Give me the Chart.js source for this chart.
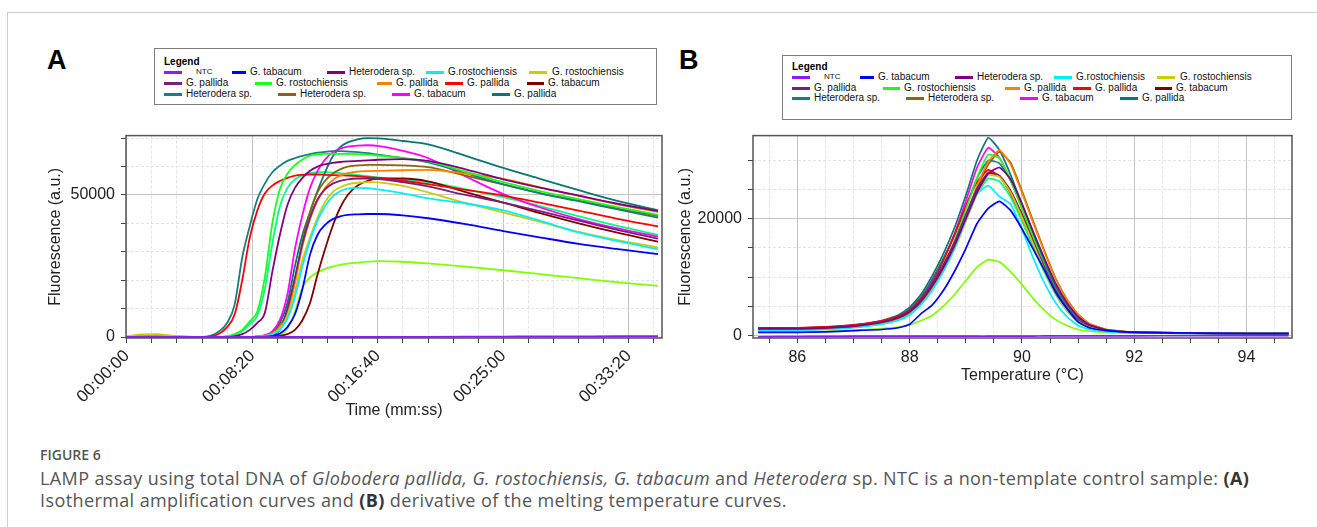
<!DOCTYPE html>
<html>
<head>
<meta charset="utf-8">
<script src="https://cdn.jsdelivr.net/npm/chart.js@4.4.0/dist/chart.umd.min.js"></script>
<style>
  body{margin:0;background:#fff;width:1317px;height:527px;overflow:hidden;position:relative;
       font-family:"Liberation Sans",Arial,sans-serif;}
  #frame{position:absolute;left:7px;top:12px;width:1340px;height:560px;border:1px solid #cfcfcf;}
  .panel{position:absolute;top:45px;font-weight:bold;font-size:27px;color:#000;}
  .legend{position:absolute;border:1.5px solid #7d7d7d;background:#fff;box-sizing:border-box;}
  .legend .head{position:absolute;left:9px;font-weight:bold;font-size:10px;line-height:12px;}
  .legend .sw{position:absolute;height:2.5px;}
  .legend .lb{position:absolute;font-size:10px;line-height:12px;white-space:nowrap;color:#111;}
  canvas{position:absolute;}
  .fig{position:absolute;left:40px;top:446px;font-family:"Open Sans",sans-serif;font-weight:600;
       font-size:14px;line-height:18px;color:#555;}
  .cap{position:absolute;left:40px;top:467px;font-family:"Open Sans",sans-serif;font-size:18px;
       letter-spacing:0.4px;line-height:22px;color:#555;white-space:nowrap;}
  .cap b{color:#333;}
</style>
</head>
<body>
<div id="frame"></div>
<div class="panel" style="left:47px">A</div>
<div class="panel" style="left:679px">B</div>
<div class="legend" id="legA" style="left:154px;top:48px;width:503px;height:57px"></div>
<div class="legend" id="legB" style="left:782px;top:55px;width:510px;height:65px"></div>
<canvas id="chartA" width="680" height="310" style="left:0;top:120px"></canvas>
<canvas id="chartB" width="640" height="280" style="left:670px;top:120px"></canvas>
<div class="fig">FIGURE 6</div>
<div class="cap">LAMP assay using total DNA of <i>Globodera pallida, G. rostochiensis, G. tabacum</i> and <i>Heterodera</i> sp. NTC is a non-template control sample: <b>(A)</b><br>Isothermal amplification curves and <b>(B)</b> derivative of the melting temperature curves.</div>

<script>
/* ---------- Data ---------- */
const seriesNames = ['NTC','G. tabacum','Heterodera sp.','G.rostochiensis','G. rostochiensis','G. pallida',
  'G. rostochiensis','G. pallida','G. pallida','G. tabacum','Heterodera sp.','Heterodera sp.','G. tabacum',
  'G. pallida','G. rostochiensis','G. rostochiensis'];
const seriesColors = ['#8c1aff','#0000ff','#800080','#00eeff','#cccc00','#7a1f7a','#1aff1a','#ff8000',
  '#ff0000','#800000','#167f7f','#8b6508','#ff00ff','#0b7676','#80ff00','#00ff80'];
const legendCount = 14;   // last two curves have no legend entry in the original

// A: isothermal amplification (time in seconds)
const timeSec = [0,60,120,180,300,360,400,430,460,490,520,550,580,610,640,670,700,730,760,790,820,850,880,920,960,1000,1100,1200,1350,1500,1650,1800,1950,2116];
const timeTicks = [0,100,200,300,400,500,600,700,800,900,1000,1100,1200,1300,1400,1500,1600,1700,1800,1900,2000,2100];
const fluorTicksA = [0,10000,20000,30000,40000,50000,60000,70000];

const ampNTC      = [0,0,0,0,0,0,0,0,0,0,0,0,0,0,0,0,0,0,0,0,0,0,0,0,0,0,50,80,120,160,200,230,260,300];
const ampBlue     = [0,0,0,0,0,0,0,0,0,0,0,100,400,1200,3500,8000,17000,29000,36000,39500,41500,42500,43000,43200,43300,43300,42800,41800,39700,37300,35000,32800,31000,29200];
const ampPurpleH  = [0,0,0,0,0,0,0,300,1000,2500,5000,8500,23000,36000,46500,52500,56000,58500,60000,60800,61300,61600,61800,62000,62200,62400,62600,62000,59000,55500,52500,49800,47000,44300];
const ampCyan     = [0,0,0,0,0,0,0,0,0,0,100,300,900,2500,6500,14000,25000,34000,41000,46000,49500,51300,52200,52500,52400,52000,50600,48800,47000,44600,40800,36800,33800,30900];
const ampYellow   = [300,900,1000,500,0,0,0,0,0,0,100,300,1000,3000,7500,16000,27000,35000,42000,47500,51000,52700,53700,54300,54500,54400,53200,50900,47200,43800,40400,37000,34200,31500];
const ampPurpleP  = [0,0,0,0,0,0,0,0,0,0,0,100,700,2500,10000,21000,33000,42000,48500,52000,54000,55000,55500,55800,55800,55700,54500,53000,50000,47300,44200,41000,37800,34600];
const ampGreen    = [0,0,0,0,0,0,300,1000,2500,5500,9000,21000,40000,52000,57500,60500,62500,63800,64300,64500,64500,64500,64500,64400,64200,63900,63000,61800,58200,54500,51300,48500,45800,43000];
const ampOrange   = [0,500,600,300,0,0,0,0,0,0,100,400,1200,3500,8500,19000,32000,41500,48000,52500,55200,56800,57700,58200,58400,58500,58700,58800,57500,55700,52600,49700,46800,44000];
const ampRed      = [0,0,0,0,0,800,3500,8000,20000,35000,44500,50500,53300,54900,56000,56800,57100,57200,57200,57100,57000,56900,56800,56600,56300,56000,55000,53800,51800,49800,47200,44500,41700,38900];
const ampDarkRed  = [0,0,0,0,0,0,0,0,0,0,0,0,100,400,1000,2500,6000,12000,22000,31000,39000,45500,50000,53300,55000,55800,55800,54800,51000,47300,43500,40000,36800,33600];
const ampTealH    = [0,0,0,0,0,1500,5000,11500,28000,39000,48500,54000,58000,60300,62000,63000,63800,64400,64900,65200,65400,65400,65300,65100,64700,64200,63000,61500,57700,53700,50500,47800,45000,42000];
const ampBrown    = [0,0,0,0,0,0,0,0,0,0,100,400,1300,4000,9000,20000,33500,44000,51000,55000,57500,59000,60000,60400,60600,60600,60400,59800,56800,53700,50600,48000,45300,42600];
const ampMagenta  = [0,0,0,0,0,0,0,0,0,0,200,700,2000,6000,15000,31000,43000,52500,58500,62500,65000,66300,67000,67400,67500,67300,65500,63000,56500,50300,45500,41500,38300,35400];
const ampTealP    = [0,0,0,0,0,0,0,0,0,0,100,500,1500,5000,12000,25000,36000,44000,51500,58000,63500,66800,68500,69600,70000,69900,69000,67800,63800,59500,55600,51700,48000,44600];
const ampLime     = [0,0,0,0,0,0,0,0,0,0,0,0,200,700,3000,9000,17500,21000,22800,24000,24800,25400,25800,26200,26500,26700,26500,25900,24800,23500,22100,20700,19300,18000];
const ampMint     = [0,0,0,0,0,0,200,800,2000,4500,7500,17000,33000,46000,52500,55500,57000,57700,58000,58000,57900,57700,57400,57000,56600,56200,55300,54500,52000,49200,46000,42500,39200,36000];

// B: derivative melt curves (temperature in °C)
const tempC = [85.3,86,86.5,87,87.5,87.8,88.0,88.2,88.4,88.6,88.8,89.0,89.2,89.4,89.6,89.8,90.0,90.2,90.4,90.6,90.8,91.0,91.2,91.5,92,93,94,94.75];
const tempTicks = [85.5,86,86.5,87,87.5,88,88.5,89,89.5,90,90.5,91,91.5,92,92.5,93,93.5,94,94.5];
const fluorTicksB = [0,5000,10000,15000,20000,25000,30000];

const meltNTC     = [-250,-200,-180,-150,-150,-150,-150,-150,-150,-150,-150,-150,-150,-150,-120,-120,-120,-120,-100,-100,-100,-100,-100,-80,-80,-60,-50,-50];
const meltBlue    = [500,500,600,800,1000,1300,1900,3700,5200,7700,11000,14900,19200,21800,23000,21400,18300,14800,11200,7400,4600,2300,1300,800,500,400,300,300];
const meltPurpleH = [1100,1100,1250,1550,2200,3000,4000,5800,8400,11600,15400,20000,24500,27800,28800,26800,22600,17800,13200,8900,5600,3200,1800,950,550,400,320,300];
const meltCyan    = [800,850,1000,1300,1900,2600,3500,5200,7700,11000,15000,19800,24300,25700,23800,22500,18200,13300,9000,5600,3200,1700,1000,650,450,350,300,280];
const meltYellow  = [900,950,1100,1400,1950,2700,3600,5300,7800,11000,14800,19500,24300,27500,27200,24500,20300,15700,11200,7200,4300,2400,1400,800,500,380,300,280];
const meltPurpleP = [1200,1200,1350,1650,2300,3100,4200,6100,8800,12100,16000,20700,25200,27900,27300,24600,20600,16100,11700,7700,4700,2600,1500,800,500,380,300,280];
const meltGreen   = [900,1000,1200,1500,2100,2900,3900,5800,8600,12000,16300,21500,27000,31000,30400,26600,21800,16800,12000,7800,4700,2600,1500,800,500,380,300,280];
const meltOrange  = [1000,1000,1150,1450,2000,2700,3600,5300,7900,11200,15300,20300,25600,29800,31800,29300,24500,19300,14300,9700,6100,3500,2000,1000,550,400,320,300];
const meltRed     = [1300,1300,1450,1800,2500,3300,4300,6300,9000,12800,17300,22200,26300,28400,27300,24300,20300,15800,11400,7400,4500,2500,1400,800,500,380,300,350];
const meltDarkRed = [1000,1050,1200,1500,2100,2900,3800,5600,8200,11500,15500,20200,24800,27800,27400,24800,20800,16300,11800,7700,4600,2500,1400,800,500,380,300,280];
const meltTealH   = [1200,1200,1350,1700,2400,3300,4500,6600,9600,13200,17200,22000,27000,30000,29500,26500,22200,17300,12500,8200,5000,2800,1600,850,520,400,320,300];
const meltBrown   = [1000,1050,1200,1500,2100,2800,3700,5400,8000,11200,15200,20000,25200,29300,31500,29600,24800,19600,14500,9800,6200,3600,2000,1000,550,400,320,300];
const meltMagenta = [1100,1100,1300,1650,2350,3200,4300,6400,9400,13000,17500,23000,28800,32200,30500,26500,21800,16800,12200,8000,4900,2800,1600,850,500,380,300,280];
const meltTealP   = [1300,1250,1400,1750,2500,3500,4800,7000,10200,14000,18500,24000,30000,33900,31800,27500,22500,17500,12800,8500,5200,3000,1700,900,550,400,300,300];
const meltLime    = [700,650,700,850,1150,1400,1800,2500,3400,5000,7000,9400,11700,13000,12600,10900,8700,6300,4300,2700,1700,1000,700,500,400,330,280,250];
const meltMint    = [900,950,1100,1400,2000,2700,3700,5500,8000,11300,15200,19800,24200,26900,26400,23700,19600,15100,10800,7000,4200,2300,1300,750,480,370,300,280];

const ampSeries  = [ampNTC,ampBlue,ampPurpleH,ampCyan,ampYellow,ampPurpleP,ampGreen,ampOrange,ampRed,ampDarkRed,ampTealH,ampBrown,ampMagenta,ampTealP,ampLime,ampMint];
const meltSeries = [meltNTC,meltBlue,meltPurpleH,meltCyan,meltYellow,meltPurpleP,meltGreen,meltOrange,meltRed,meltDarkRed,meltTealH,meltBrown,meltMagenta,meltTealP,meltLime,meltMint];

/* ---------- Legend boxes (HTML, same look as the instrument software) ---------- */
// [row, swatch x, text x] inside the box
const legendSlots = [[0,9,41],[0,77,95],[0,172,194],[0,271,293],[0,374,397],
                     [1,9,31],[1,100,121],[1,222,241],[1,290,312],[1,372,393],
                     [2,9,31],[2,123,145],[2,237,259],[2,337,359]];

function buildLegend(id, headY, rowsY){
  const box = document.getElementById(id);
  let html = '<div class="head" style="top:' + (headY-6) + 'px">Legend</div>';
  for (let i = 0; i < legendCount; i++){
    const [row, sx, tx] = legendSlots[i];
    const y = rowsY[row];
    const w = Math.min(18, tx - 4 - sx);
    html += '<div class="sw" style="left:' + sx + 'px;top:' + (y-1) + 'px;width:' + w + 'px;background:' + seriesColors[i] + '"></div>';
    const fs = i === 0 ? 'font-size:8px;' : '';
    html += '<div class="lb" style="left:' + tx + 'px;top:' + (y-6) + 'px;' + fs + '">' + seriesNames[i] + '</div>';
  }
  box.innerHTML = html;
}
buildLegend('legA', 13, [23,34,45]);
buildLegend('legB', 11, [21,32,42]);

/* ---------- Charts ---------- */
const FONT = '"Liberation Sans", Arial, sans-serif';
Chart.defaults.font.family = FONT;
Chart.defaults.color = '#222';

const framePlugin = {
  id: 'frame',
  afterDatasetsDraw(chart){
    const {ctx, chartArea: a} = chart;
    ctx.save();
    ctx.strokeStyle = '#555';
    ctx.lineWidth = 1.5;
    ctx.strokeRect(a.left, a.top, a.right - a.left, a.bottom - a.top);
    ctx.restore();
  }
};

const pad2 = n => String(n).padStart(2, '0');
const fmtTime = v => '00:' + pad2(Math.floor(v / 60)) + ':' + pad2(v % 60);

function gridOpts(isMajor){
  return {
    color: c => (c.tick && isMajor(c.tick.value)) ? '#c4c4c4' : '#e3e3e3',
    tickColor: '#444', tickLength: 5, lineWidth: 1
  };
}
function borderOpts(isMajor){
  return { display: false, dash: c => (c.tick && isMajor(c.tick.value)) ? [] : [3, 2] };
}
function makeData(xs, list, extra){
  return {
    datasets: list.map((arr, i) => Object.assign({
      label: seriesNames[i],
      data: xs.map((x, j) => ({x: x, y: arr[j]})),
      borderColor: seriesColors[i],
      pointRadius: 0,
      fill: false
    }, extra))
  };
}

const majorTime = v => v % 500 === 0;
const majorA = v => v % 50000 === 0;

new Chart(document.getElementById('chartA'), {
  type: 'line',
  data: makeData(timeSec, ampSeries, {borderWidth: 1.8, cubicInterpolationMode: 'monotone'}),
  plugins: [framePlugin],
  options: {
    responsive: false, animation: false, devicePixelRatio: 1,
    layout: {padding: {top: 10, right: 18, left: 0, bottom: 0}},
    plugins: {legend: {display: false}, tooltip: {enabled: false}},
    scales: {
      x: {
        type: 'linear', min: -3, max: 2132,
        afterBuildTicks: s => { s.ticks = timeTicks.map(v => ({value: v})); },
        afterFit: s => { s.height = 92; },
        ticks: {autoSkip: false, minRotation: 45, maxRotation: 45, padding: 3,
                font: {size: 17}, color: '#222', callback: v => majorTime(v) ? fmtTime(v) : ''},
        grid: gridOpts(majorTime), border: borderOpts(majorTime),
        title: {display: true, text: 'Time (mm:ss)', font: {size: 16}, color: '#222', padding: {top: 0, bottom: 10}}
      },
      y: {
        min: -350, max: 70900,
        afterBuildTicks: s => { s.ticks = fluorTicksA.map(v => ({value: v})); },
        afterFit: s => { s.width = 126; },
        ticks: {padding: 6, font: {size: 16}, color: '#222', callback: v => majorA(v) ? v : ''},
        grid: gridOpts(majorA), border: borderOpts(majorA),
        title: {display: true, text: 'Fluorescence (a.u.)', font: {size: 16}, color: '#222', padding: {top: 46, bottom: 0}}
      }
    }
  }
});

const majorTemp = v => Math.abs(v % 2) < 1e-6;
const majorB = v => v % 20000 === 0;

new Chart(document.getElementById('chartB'), {
  type: 'line',
  data: makeData(tempC, meltSeries, {borderWidth: 1.7, tension: 0.15}),
  plugins: [framePlugin],
  options: {
    responsive: false, animation: false, devicePixelRatio: 1,
    layout: {padding: {top: 12, right: 18, left: 0, bottom: 0}},
    plugins: {legend: {display: false}, tooltip: {enabled: false}},
    scales: {
      x: {
        type: 'linear', min: 85.21, max: 94.81,
        afterBuildTicks: s => { s.ticks = tempTicks.map(v => ({value: v})); },
        afterFit: s => { s.height = 62; },
        ticks: {autoSkip: false, maxRotation: 0, padding: 5, font: {size: 16}, color: '#222',
                callback: v => majorTemp(v) ? v : ''},
        grid: gridOpts(majorTemp), border: borderOpts(majorTemp),
        title: {display: true, text: 'Temperature (°C)', font: {size: 16}, color: '#222', padding: {top: 0, bottom: 15}}
      },
      y: {
        min: -455, max: 34280,
        afterBuildTicks: s => { s.ticks = fluorTicksB.map(v => ({value: v})); },
        afterFit: s => { s.width = 83; },
        ticks: {padding: 6, font: {size: 16}, color: '#222', callback: v => majorB(v) ? v : ''},
        grid: gridOpts(majorB), border: borderOpts(majorB),
        title: {display: true, text: 'Fluorescence (a.u.)', font: {size: 16}, color: '#222', padding: {top: 6, bottom: 0}}
      }
    }
  }
});
</script>
</body>
</html>
